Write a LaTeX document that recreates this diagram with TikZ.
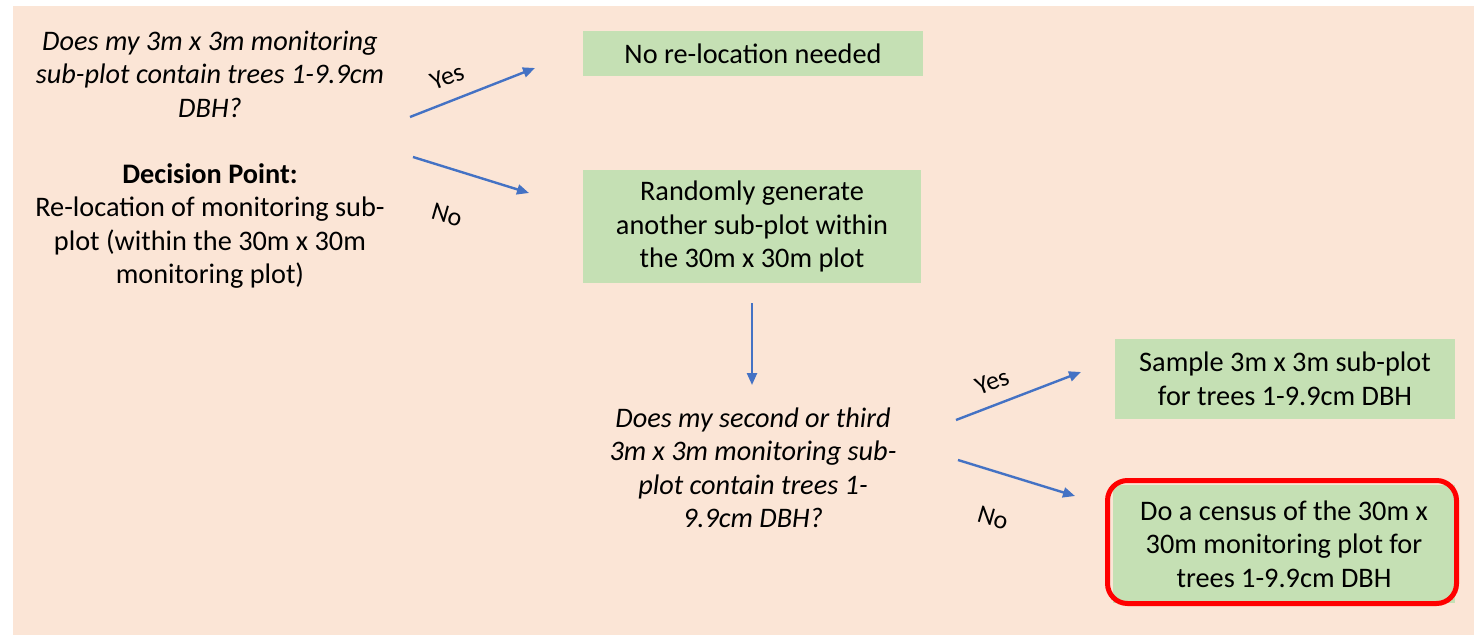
\documentclass[tikz,border=0pt]{standalone}
\usepackage{fontspec}
\setmainfont{Carlito}
\usetikzlibrary{arrows.meta}
\definecolor{peach}{HTML}{FBE5D6}
\definecolor{boxgreen}{HTML}{C5E0B4}
\definecolor{arrblue}{HTML}{4472C4}
\definecolor{redline}{HTML}{FF0000}
\tikzset{
  txt/.style={inner sep=0pt, align=center, font=\fontsize{28.3}{33.5}\selectfont},
  qtxt/.style={txt, font=\fontsize{28.3}{33.5}\selectfont\itshape},
  gbox/.style={txt, fill=boxgreen},
  arr/.style={draw=arrblue, line width=2.4pt, -{Triangle[length=12pt,width=10pt]}},
  lbl/.style={inner sep=0pt, font=\fontsize{26}{30}\selectfont},
}
\begin{document}
\begin{tikzpicture}[x=1pt,y=-1pt]
\useasboundingbox (0,0) rectangle (1483,635);
\fill[white] (0,0) rectangle (1483,635);
\fill[peach] (13,6) rectangle (1474,635);

% left column
\node[qtxt] (q1) at (210,74) {Does my 3m x 3m monitoring\\sub-plot contain trees 1-9.9cm\\DBH?};
\node[txt] (dp) at (210,226) {\textbf{Decision Point:}\\Re-location of monitoring sub-\\plot (within the 30m x 30m\\monitoring plot)};

% boxes
\node[gbox, minimum width=340pt, minimum height=45pt] (b1) at (753,53.5) {No re-location needed};
\node[gbox, minimum width=338pt, minimum height=113pt] (b2) at (752,226.5) {Randomly generate\\another sub-plot within\\the 30m x 30m plot};
\node[qtxt] (q2) at (753,468) {Does my second or third\\3m x 3m monitoring sub-\\plot contain trees 1-\\9.9cm DBH?};
\node[gbox, minimum width=340pt, minimum height=80pt] (b3) at (1285,379) {Sample 3m x 3m sub-plot\\for trees 1-9.9cm DBH};
\node[gbox, minimum width=342pt, minimum height=118pt] (b4) at (1284,544) {Do a census of the 30m x\\30m monitoring plot for\\trees 1-9.9cm DBH};
\draw[redline, line width=5pt, rounded corners=20pt] (1107.5,480.5) rectangle (1456.5,603.5);

% arrow end points
\coordinate (y1s) at (410,117);
\coordinate (y1e) at (535,68);
\coordinate (n1s) at (413,157);
\coordinate (n1e) at (529,193);
\coordinate (ds) at (752,303);
\coordinate (de) at (752,385);
\coordinate (y2s) at (956,420);
\coordinate (y2e) at (1081,372);
\coordinate (n2s) at (958,460);
\coordinate (n2e) at (1075,496);

\draw[arr] (y1s) -- (y1e);
\draw[arr] (n1s) -- (n1e);
\draw[arr] (ds) -- (de);
\draw[arr] (y2s) -- (y2e);
\draw[arr] (n2s) -- (n2e);

\node[lbl, rotate=21] (ly1) at (447,77) {Yes};
\node[lbl, rotate=-16] (ln1) at (447,215) {No};
\node[lbl, rotate=21] (ly2) at (992,382) {Yes};
\node[lbl, rotate=-16] (ln2) at (993,518) {No};
\end{tikzpicture}
\end{document}
